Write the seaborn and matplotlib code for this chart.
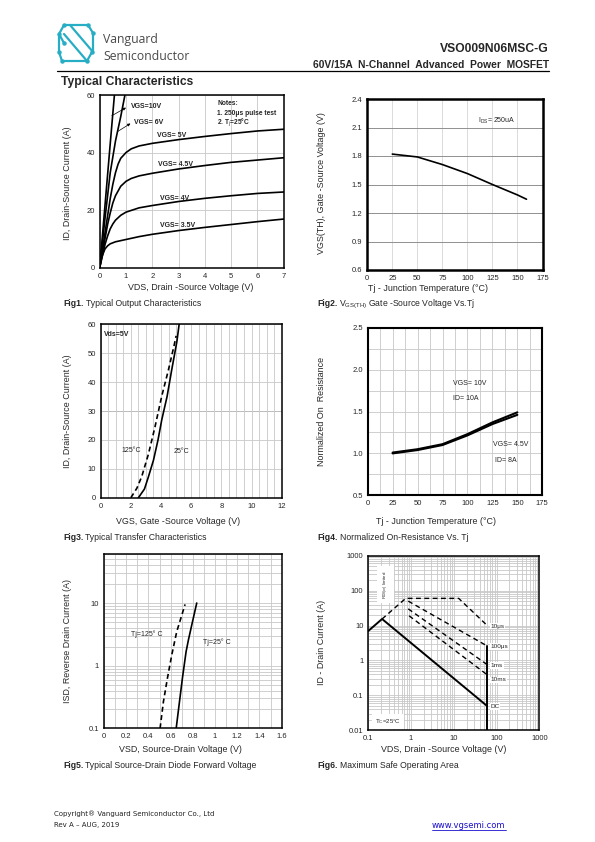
import matplotlib
matplotlib.use('Agg')
import matplotlib.pyplot as plt
import seaborn as sns
import numpy as np
from matplotlib.lines import Line2D
from matplotlib.ticker import LogLocator, NullFormatter

# ---------------- data ----------------
# Fig1 output characteristics: VDS (V) -> ID (A)
vds_10v = [0, 0.2, 0.4, 0.56]
id_10v = [0, 21.5, 43, 60]
vds_6v = [0, 0.2, 0.4, 0.6, 0.8, 0.96]
id_6v = [0, 17, 33, 44, 52.5, 60]
vds_5v = [0, 0.1, 0.2, 0.3, 0.4, 0.5, 0.6, 0.7, 0.8, 1.0, 1.2, 1.5, 2, 3, 4, 5, 6, 7]
id_5v = [0, 6, 12, 18, 24, 29, 33, 36, 38, 40, 41.3, 42.3, 43.2, 44.5, 45.6, 46.6, 47.5, 48.1]
vds_45v = [0, 0.1, 0.2, 0.3, 0.4, 0.5, 0.6, 0.8, 1.0, 1.2, 1.5, 2, 3, 4, 5, 6, 7]
id_45v = [0, 5, 10, 15, 19, 22.5, 25, 28.3, 30, 31, 31.9, 32.8, 34.3, 35.5, 36.6, 37.4, 38.2]
vds_4v = [0, 0.1, 0.2, 0.3, 0.4, 0.5, 0.6, 0.8, 1.0, 1.5, 2, 3, 4, 5, 6, 7]
id_4v = [0, 4, 8, 11, 13.5, 15.2, 16.5, 18.2, 19.3, 20.8, 21.6, 23, 24.1, 25, 25.8, 26.3]
vds_35v = [0, 0.05, 0.1, 0.2, 0.3, 0.4, 0.6, 0.8, 1, 1.5, 2, 3, 4, 5, 6, 7]
id_35v = [0, 2.5, 4.2, 6.5, 7.6, 8.3, 9, 9.4, 9.8, 10.8, 11.6, 12.9, 14, 15, 16, 16.9]

# Fig2 threshold voltage vs junction temperature
tj_vth = [25, 50, 75, 100, 125, 150, 159]
vth = [1.82, 1.79, 1.71, 1.615, 1.50, 1.39, 1.345]

# Fig3 transfer characteristics: VGS (V) -> ID (A)
vgs_25c = [2.5, 2.9, 3.15, 3.5, 3.8, 4.05, 4.4, 4.7, 5.05, 5.2]
id_25c = [0, 3, 7, 13, 20, 27, 35, 44, 54, 60]
vgs_125c = [2.0, 2.4, 2.72, 3.16, 3.6, 4.04, 4.48, 4.88, 5.0]
id_125c = [0, 3.3, 7.3, 15, 24.5, 35, 44, 53, 56]

# Fig4 normalized on-resistance vs Tj
tj_ron = [25, 50, 75, 100, 125, 150]
ron_10v = [1.01, 1.05, 1.11, 1.23, 1.37, 1.49]
ron_45v = [1.0, 1.04, 1.10, 1.215, 1.35, 1.46]

# Fig5 body diode forward voltage: VSD (V) -> ISD (A)
vsd_25c = [0.65, 0.676, 0.706, 0.739, 0.76, 0.79, 0.835]
isd_25c = [0.1, 0.236, 0.63, 1.67, 2.57, 4.45, 10]
vsd_125c = [0.505, 0.535, 0.571, 0.61, 0.655, 0.73]
isd_125c = [0.1, 0.266, 0.63, 1.48, 3.5, 9.5]

# Fig6 safe operating area
soa_dc_v = [0.1, 0.21, 58.6]
soa_dc_i = [7.0, 15.4, 0.051]
soa_edge_v = [58.6, 58.6]
soa_edge_i = [2.65, 0.01]
soa_10us_v = [0.21, 0.75, 13.0, 58.6]
soa_10us_i = [15.4, 60, 60, 10.4]
soa_100us_v = [0.86, 58.6]
soa_100us_i = [50, 2.65]
soa_1ms_v = [0.86, 58.6]
soa_1ms_i = [30, 0.78]
soa_10ms_v = [0.9, 58.6]
soa_10ms_i = [19, 0.40]

# ---------------- styling ----------------
sns.set_style('white')
NARROW = ['Liberation Sans Narrow', 'Liberation Sans', 'DejaVu Sans']
ARIAL = ['Liberation Sans', 'DejaVu Sans']
plt.rcParams['font.family'] = NARROW
plt.rcParams['mathtext.fontset'] = 'custom'
plt.rcParams['mathtext.rm'] = 'Liberation Sans'
plt.rcParams['mathtext.it'] = 'Liberation Sans:italic'
plt.rcParams['mathtext.bf'] = 'Liberation Sans:bold'

W, H = 595, 842
GRID = '#c8c8c8'
fig = plt.figure(figsize=(W / 100, H / 100), dpi=100)


def fx(x, y):
    return x / W, 1 - y / H


def ftext(x, y, s, **kw):
    kw.setdefault('family', ARIAL)
    return fig.text(x / W, 1 - y / H, s, **kw)


def panel(x0, y0, x1, y1, frame):
    ax = fig.add_axes([x0 / W, 1 - y1 / H, (x1 - x0) / W, (y1 - y0) / H])
    ax.set_axisbelow(True)
    for sp in ax.spines.values():
        sp.set_visible(True)
        sp.set_color('black')
        sp.set_linewidth(frame)
    ax.tick_params(which='both', length=0, pad=3.5, labelsize=5.5)
    return ax


def curve(ax, x, y, lw=1.2, ls='-'):
    sns.lineplot(x=x, y=y, ax=ax, color='black', linewidth=lw, sort=False,
                 estimator=None, linestyle=ls)
    ax.set(xlabel='', ylabel='')


def caption(x, y, num, rest):
    t = ftext(x, y, num, fontsize=6.2, fontweight='bold', va='center')
    r = fig.canvas.get_renderer()
    bb = t.get_window_extent(renderer=r)
    fig.text(bb.x1 / W + 2 / W, 1 - y / H, rest, fontsize=6.2, va='center', family=ARIAL)


# ---------------- header ----------------
teal = '#27aec4'
logo = [[(64, 25), (88, 25), (93, 33)],
        [(64, 25), (59, 34), (64, 43)],
        [(70, 25), (93, 52)],
        [(64, 34), (87, 61)],
        [(93, 33), (93, 52)],
        [(59, 34), (59, 52)],
        [(59, 52), (62, 61), (87, 61), (92, 52)]]
for seg in logo:
    xs = [fx(*p)[0] for p in seg]
    ys = [fx(*p)[1] for p in seg]
    fig.add_artist(Line2D(xs, ys, color=teal, lw=1.6, solid_capstyle='round'))
for p in [(64, 25), (88, 25), (93, 33), (59, 34), (64, 43), (59, 52), (62, 61), (87, 61), (92, 52)]:
    fig.add_artist(Line2D([fx(*p)[0]], [fx(*p)[1]], marker='o', ms=2.2, color=teal))
ftext(103, 40, 'Vanguard', fontsize=8.8, color='#4a4a4a', va='center', family=['Open Sans', 'DejaVu Sans'])
ftext(103, 56, 'Semiconductor', fontsize=8.8, color='#4a4a4a', va='center', family=['Open Sans', 'DejaVu Sans'])
ftext(549, 49, 'VSO009N06MSC-G', fontsize=8.7, fontweight='bold', ha='right', va='center')
ftext(549, 65, '60V/15A  N-Channel  Advanced  Power  MOSFET', fontsize=7.4, fontweight='bold',
      ha='right', va='center')
fig.add_artist(Line2D([fx(57, 71)[0], fx(549, 71)[0]], [fx(57, 71)[1]] * 2, color='black', lw=0.9))
ftext(61, 82, 'Typical Characteristics', fontsize=8.7, fontweight='bold', va='center')

# ---------------- Fig1 ----------------
ax1 = panel(99.7, 95, 283.7, 267.7, 1.1)
for xv, yv in [(vds_10v, id_10v), (vds_6v, id_6v), (vds_5v, id_5v), (vds_45v, id_45v),
               (vds_4v, id_4v), (vds_35v, id_35v)]:
    curve(ax1, xv, yv)
ax1.set_xlim(0, 7)
ax1.set_ylim(0, 60)
ax1.set_xticks(range(8))
ax1.set_yticks([0, 20, 40, 60])
ax1.grid(True, color=GRID, lw=0.6)
arrow = dict(arrowstyle='-|>', lw=0.5, color='black', mutation_scale=4, shrinkA=0, shrinkB=0)
ax1.annotate('', xy=(1.0, 55.6), xytext=(0.46, 52.8), arrowprops=arrow)
ax1.text(1.19, 56.1, 'VGS=10V', fontsize=5, fontweight='bold', va='center')
ax1.annotate('', xy=(1.17, 50.1), xytext=(0.68, 47.3), arrowprops=arrow)
ax1.text(1.32, 50.4, 'VGS= 6V', fontsize=5, fontweight='bold', va='center')
for xl, yl, s in [(2.17, 45.9, 'VGS= 5V'), (2.2, 35.7, 'VGS= 4.5V'),
                  (2.3, 24.1, 'VGS= 4V'), (2.3, 14.8, 'VGS= 3.5V')]:
    ax1.text(xl, yl, s, fontsize=5, fontweight='bold', va='center')
ax1.text(4.47, 57.1, 'Notes:', fontsize=4.8, fontweight='bold', va='center')
ax1.text(4.47, 53.6, '1. 250\u03bcs pulse test', fontsize=4.8, fontweight='bold', va='center')
ax1.text(4.47, 50.6, r'2. T$_\mathrm{j}$=25°C', fontsize=4.8, fontweight='bold', va='center')
ftext(191, 288, 'VDS, Drain -Source Voltage (V)', fontsize=6.4, ha='center', va='center')
ftext(68, 183, 'ID, Drain-Source Current (A)', fontsize=6.4, ha='center', va='center', rotation=90)
caption(63, 304, 'Fig1.', 'Typical Output Characteristics')

# ---------------- Fig2 ----------------
ax2 = panel(367.3, 99, 542.5, 270, 1.8)
curve(ax2, tj_vth, vth)
ax2.set_xlim(0, 175)
ax2.set_ylim(0.6, 2.4)
ax2.set_xticks(range(0, 176, 25))
ax2.set_yticks(np.arange(0.6, 2.41, 0.3))
ax2.set_yticklabels(['0.6', '0.9', '1.2', '1.5', '1.8', '2.1', '2.4'])
ax2.xaxis.grid(True, color='#d6d6d6', lw=0.6)
ax2.yaxis.grid(True, color='#909090', lw=0.7)
ax2.text(111, 2.17, r'I$_\mathrm{DS}$= 250uA', fontsize=5, va='center')
ftext(428, 289, 'Tj - Junction Temperature (\u00b0C)', fontsize=6.4, ha='center', va='center')
ftext(321.5, 183, 'VGS(TH), Gate -Source Voltage (V)', fontsize=6.4, ha='center', va='center',
      rotation=90)
caption(317, 304, 'Fig2.', r'V$_{\mathrm{GS(TH)}}$ Gate -Source Voltage Vs.Tj')

# ---------------- Fig3 ----------------
ax3 = panel(100.7, 324.3, 281.7, 497.7, 1.1)
curve(ax3, vgs_25c, id_25c)
curve(ax3, vgs_125c, id_125c, ls=(0, (3, 2)))
ax3.set_xlim(0, 12)
ax3.set_ylim(0, 60)
ax3.set_xticks(range(0, 13, 2))
ax3.set_yticks(range(0, 61, 10))
ax3.set_xticks(np.arange(0, 12.01, 0.5), minor=True)
ax3.grid(True, which='major', color=GRID, lw=0.6)
ax3.xaxis.grid(True, which='minor', color=GRID, lw=0.6)
ax3.axhline(30, color='#808080', lw=0.7, zorder=0.5)
ax3.text(0.24, 56.5, 'Vds=5V', fontsize=5, fontweight='bold', va='center')
ax3.text(1.35, 16.5, '125\u00b0C', fontsize=5, va='center')
ax3.text(4.82, 15.9, '25\u00b0C', fontsize=5, va='center')
ftext(178, 521, 'VGS, Gate -Source Voltage (V)', fontsize=6.4, ha='center', va='center')
ftext(68, 411, 'ID, Drain-Source Current (A)', fontsize=6.4, ha='center', va='center', rotation=90)
caption(63, 537, 'Fig3.', 'Typical Transfer Characteristics')

# ---------------- Fig4 ----------------
ax4 = panel(367.7, 327.7, 542.3, 495.3, 1.5)
curve(ax4, tj_ron, ron_10v, lw=1.5)
curve(ax4, tj_ron, ron_45v, lw=1.5)
ax4.set_xlim(0, 175)
ax4.set_ylim(0.5, 2.5)
ax4.set_xticks(range(0, 176, 25))
ax4.set_yticks([0.5, 1.0, 1.5, 2.0, 2.5])
ax4.set_yticklabels(['0.5', '1.0', '1.5', '2.0', '2.5'])
ax4.set_xticks(np.arange(0, 175.1, 12.5), minor=True)
ax4.set_yticks(np.arange(0.5, 2.51, 0.25), minor=True)
ax4.grid(True, which='both', color=GRID, lw=0.6)
ax4.text(85, 1.836, 'VGS= 10V', fontsize=5, va='center')
ax4.text(85, 1.657, 'ID= 10A', fontsize=5, va='center')
ax4.text(126, 1.108, 'VGS= 4.5V', fontsize=5, va='center')
ax4.text(128, 0.913, 'ID= 8A', fontsize=5, va='center')
ftext(436, 521, 'Tj - Junction Temperature (\u00b0C)', fontsize=6.4, ha='center', va='center')
ftext(321, 411, 'Normalized On  Resistance', fontsize=6.4, ha='center', va='center', rotation=90)
caption(317, 537, 'Fig4.', 'Normalized On-Resistance Vs. Tj')

# ---------------- Fig5 ----------------
ax5 = panel(104, 554.3, 281.7, 728.3, 1.1)
ax5.set_yscale('log')
curve(ax5, vsd_25c, isd_25c)
curve(ax5, vsd_125c, isd_125c, ls=(0, (3, 2)))
ax5.set_xlim(0, 1.6)
ax5.set_ylim(0.1, 60)
ax5.set_xticks(np.arange(0, 1.61, 0.2))
ax5.set_xticklabels(['0', '0.2', '0.4', '0.6', '0.8', '1', '1.2', '1.4', '1.6'])
ax5.set_xticks(np.arange(0, 1.61, 0.1), minor=True)
ax5.set_yticks([0.1, 1, 10])
ax5.set_yticklabels(['0.1', '1', '10'])
ax5.yaxis.set_minor_locator(LogLocator(base=10, subs=np.arange(2, 10)))
ax5.yaxis.set_minor_formatter(NullFormatter())
ax5.grid(True, which='both', color=GRID, lw=0.6)
ax5.text(0.243, 3.16, 'Tj=125\u00b0 C', fontsize=5, va='center')
ax5.text(0.895, 2.36, 'Tj=25\u00b0 C', fontsize=5, va='center')
ftext(180, 749, 'VSD, Source-Drain Voltage (V)', fontsize=6.4, ha='center', va='center')
ftext(68, 641, 'ISD, Reverse Drain Current (A)', fontsize=6.4, ha='center', va='center', rotation=90)
caption(63, 766, 'Fig5.', 'Typical Source-Drain Diode Forward Voltage')

# ---------------- Fig6 ----------------
ax6 = panel(368.3, 555.7, 539.3, 730.3, 1.1)
ax6.set_xscale('log')
ax6.set_yscale('log')
curve(ax6, soa_dc_v, soa_dc_i, lw=1.4)
curve(ax6, soa_edge_v, soa_edge_i, lw=1.4)
for xv, yv in [(soa_10us_v, soa_10us_i), (soa_100us_v, soa_100us_i),
               (soa_1ms_v, soa_1ms_i), (soa_10ms_v, soa_10ms_i)]:
    curve(ax6, xv, yv, lw=1.0, ls=(0, (3.5, 2.5)))
ax6.set_xlim(0.1, 1000)
ax6.set_ylim(0.01, 1000)
ax6.set_xticks([0.1, 1, 10, 100, 1000])
ax6.set_xticklabels(['0.1', '1', '10', '100', '1000'])
ax6.set_yticks([0.01, 0.1, 1, 10, 100, 1000])
ax6.set_yticklabels(['0.01', '0.1', '1', '10', '100', '1000'])
for axis in (ax6.xaxis, ax6.yaxis):
    axis.set_minor_locator(LogLocator(base=10, subs=np.arange(2, 10)))
    axis.set_minor_formatter(NullFormatter())
ax6.grid(True, which='both', color=GRID, lw=0.6)
wbox = dict(facecolor='white', edgecolor='none', pad=0.6)
for yl, s in [(9.7, '10\u03bcs'), (2.48, '100\u03bcs'), (0.71, '1ms'), (0.276, '10ms'), (0.048, 'DC')]:
    ax6.text(72, yl, s, fontsize=4.6, va='center', bbox=wbox)
ax6.text(0.25, 150, r'R$_{\mathrm{DS(on)}}$ limited', fontsize=3.2, rotation=90, ha='center',
         va='center', bbox=dict(facecolor='white', edgecolor='none', pad=3))
ax6.text(0.29, 0.018, r'T$_\mathrm{C}$=25°C', fontsize=4.4,
         ha='center', va='center', bbox=dict(facecolor='white', edgecolor='none', pad=2))
ftext(444, 749, 'VDS, Drain -Source Voltage (V)', fontsize=6.4, ha='center', va='center')
ftext(322, 642, 'ID - Drain Current (A)', fontsize=6.4, ha='center', va='center', rotation=90)
caption(317, 766, 'Fig6.', 'Maximum Safe Operating Area')

# ---------------- footer ----------------
ftext(54, 813.5, 'Copyright\u00ae Vanguard Semiconductor Co., Ltd', fontsize=5.0, va='center',
      family=['DejaVu Sans'], color='#222222')
ftext(54, 825.5, 'Rev A \u2013 AUG, 2019', fontsize=5.0, va='center', family=['DejaVu Sans'],
      color='#222222')
url = ftext(432, 825.5, 'www.vgsemi.com', fontsize=6.0, va='center', family=['DejaVu Sans'],
            color='#1a0dcc')
ub = url.get_window_extent(renderer=fig.canvas.get_renderer())
fig.add_artist(Line2D([ub.x0 / W, ub.x1 / W], [fx(0, 829.5)[1]] * 2, color='#1a0dcc', lw=0.6))

fig.savefig('out.png', dpi=100)
